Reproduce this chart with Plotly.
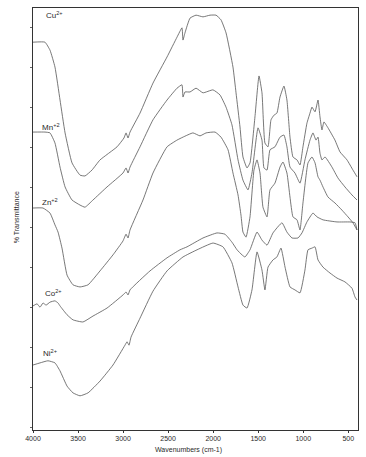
import plotly.graph_objects as go

# Cu2+ spectrum
cu_wn = [4000,3867,3811,3756,3700,3644,3567,3478,3423,3345,3256,3067,2990,2967,2945,2923,2812,2668,2512,2401,
         2346,2335,2313,2257,2190,2113,2035,1968,1913,1857,1780,1746,1702,1669,1624,1591,1536,1491,1458,1425,
         1391,1358,1325,1292,1258,1214,1181,1147,1114,1069,1036,1003,959,925,903,869,836,814,792,770,
         725,648,592,514,448,403]
cu_t = [91.9,91.9,90.0,86.0,78.2,70.4,63.3,60.4,60.2,61.6,64.0,67.1,69.2,70.4,69.2,70.6,75.1,82.2,88.4,93.1,
        95.3,92.4,94.1,97.6,98.3,97.9,98.3,98.3,97.2,94.1,86.0,79.9,71.8,64.7,62.1,63.3,74.2,83.9,79.9,68.0,
        67.1,73.5,74.6,75.1,78.9,81.5,78.2,69.4,64.7,64.0,62.8,67.1,72.7,75.1,76.5,75.4,78.2,74.2,71.1,73.0,
        71.6,68.7,65.9,64.0,61.6,60.0]

# Mn+2 spectrum
mn_wn = [4000,3867,3811,3756,3700,3644,3567,3478,3423,3334,3178,3001,2967,2945,2923,2812,2668,2512,2401,2346,
         2335,2313,2257,2190,2113,2002,1924,1857,1791,1724,1669,1613,1569,1502,1458,1436,1402,1369,1314,1258,
         1214,1181,1147,1092,1036,981,925,892,858,836,814,792,758,681,614,537,459,403]
mn_t = [70.6,70.6,70.4,68.0,62.3,57.6,54.5,53.3,52.8,54.5,57.6,60.9,62.1,60.9,62.3,67.1,73.5,78.2,81.0,81.8,
        78.9,80.1,80.1,81.0,79.9,80.6,79.4,76.5,72.3,64.0,59.2,56.9,60.9,71.6,68.7,62.1,61.6,66.4,67.1,69.4,
        69.9,67.1,62.3,60.9,58.5,64.0,68.7,70.4,68.7,69.4,65.6,64.0,64.7,62.3,59.7,57.6,55.7,54.5]

# Zn+2 spectrum
zn_wn = [4000,3889,3811,3756,3722,3678,3622,3556,3478,3389,3256,3112,3001,2967,2945,2923,2779,2668,2512,2401,
         2335,2224,2146,2079,1979,1913,1835,1780,1724,1691,1669,1635,1591,1547,1513,1480,1447,1402,1369,1314,
         1258,1225,1181,1147,1114,1069,1036,1003,947,903,869,836,814,781,725,648,570,503,448,403]
zn_t = [52.6,52.6,51.4,48.6,46.9,43.1,36.7,34.4,33.9,34.4,37.7,41.5,44.8,46.4,45.5,47.4,54.5,60.9,67.1,68.7,
        69.4,70.4,69.7,70.4,70.6,69.4,66.4,60.9,55.7,50.9,46.9,45.7,50.5,61.6,64.0,60.9,52.8,50.5,56.9,58.5,
        62.3,63.5,60.9,55.2,50.5,49.8,47.4,53.8,63.3,64.7,63.3,60.0,59.2,57.6,55.2,53.8,52.1,50.5,49.1,47.4]

# Co2+ spectrum
co_wn = [4000,3955,3922,3889,3855,3811,3756,3722,3700,3622,3556,3445,3334,3178,3001,2967,2945,2923,2701,2512,
         2368,2290,2113,1957,1869,1791,1735,1680,1647,1591,1513,1458,1402,1336,1236,1181,1125,1058,1014,959,
         892,847,781,625,481,425,403]
co_t = [29.4,29.9,29.1,30.1,29.6,30.3,30.6,30.1,29.4,27.3,26.1,25.6,27.0,28.9,32.0,32.7,32.0,33.2,37.7,40.8,
        42.7,43.4,45.5,46.7,46.4,44.5,42.7,41.5,41.0,42.7,46.9,45.0,43.8,46.7,49.1,46.9,45.5,45.5,46.7,49.3,
        51.4,50.5,49.8,49.3,49.3,49.1,47.4]

# Ni2+ spectrum
ni_wn = [4000,3922,3834,3756,3700,3622,3556,3478,3389,3256,3112,2979,2956,2934,2912,2812,2668,2512,2335,2179,
         2002,1891,1791,1724,1669,1624,1569,1513,1458,1425,1391,1336,1292,1247,1202,1147,1092,1036,981,947,
         903,869,836,781,703,625,537,459,425,403]
ni_t = [15.4,15.9,16.4,15.9,14.0,10.4,8.8,8.1,8.8,11.6,15.4,20.1,20.9,20.1,22.0,26.5,32.9,37.7,41.0,42.7,
        44.3,43.4,39.6,33.9,29.6,28.9,33.2,42.2,37.9,33.2,38.6,40.3,41.0,43.1,38.6,33.9,33.2,32.5,37.9,42.7,
        43.1,43.4,40.3,38.6,37.2,36.0,35.1,33.6,31.5,30.8]

series = [("Cu<sup>2+</sup>", cu_wn, cu_t), ("Mn<sup>+2</sup>", mn_wn, mn_t), ("Zn<sup>+2</sup>", zn_wn, zn_t),
          ("Co<sup>2+</sup>", co_wn, co_t), ("Ni<sup>2+</sup>", ni_wn, ni_t)]

# label anchor positions (wavenumber, %T)
label_pos = [(3878, 98.3), (3922, 71.8), (3922, 54.0), (3889, 32.5), (3911, 18.2)]

x_ticks = [4000, 3500, 3000, 2500, 2000, 1500, 1000, 500]

TXT = "#2a2a2a"

fig = go.Figure()
for name, wn, t in series:
    fig.add_trace(go.Scatter(x=wn, y=t, mode="lines", name=name,
                             line=dict(color="#555555", width=0.8, shape="spline", smoothing=0.4),
                             showlegend=False, hoverinfo="skip"))

for (name, _, _), (lx, ly) in zip(series, label_pos):
    fig.add_annotation(x=lx, y=ly, text=name, showarrow=False, xanchor="left", yanchor="middle",
                       font=dict(size=8, color=TXT))

fig.add_annotation(xref="paper", yref="paper", x=-0.068, y=0.505, text="% Transmittance", textangle=-90,
                   showarrow=False, font=dict(size=7, color=TXT))
fig.add_annotation(xref="paper", yref="paper", x=0.477, y=-0.047, text="Wavenumbers (cm-1)",
                   showarrow=False, yanchor="middle", font=dict(size=7, color=TXT))

fig.update_layout(
    template="none",
    width=366, height=457,
    margin=dict(l=33, r=8, t=8, b=27),
    paper_bgcolor="white", plot_bgcolor="white",
    font=dict(family="Liberation Sans, Arial, sans-serif", color=TXT, size=7),
)
fig.update_xaxes(range=[4000, 392], tickvals=x_ticks, ticktext=[str(v) for v in x_ticks],
                 showgrid=False, zeroline=False, showline=True, linecolor="#333", linewidth=1, mirror=True,
                 ticks="outside", ticklen=2, tickcolor="#333", tickfont=dict(size=7, color=TXT))
fig.update_yaxes(range=[0, 100], showgrid=False, zeroline=False, showline=True, linecolor="#333",
                 linewidth=1, mirror=True, showticklabels=False, ticks="outside", ticklen=2,
                 tick0=0.5, dtick=9.48, tickcolor="#666")

fig.write_html("out.html")
